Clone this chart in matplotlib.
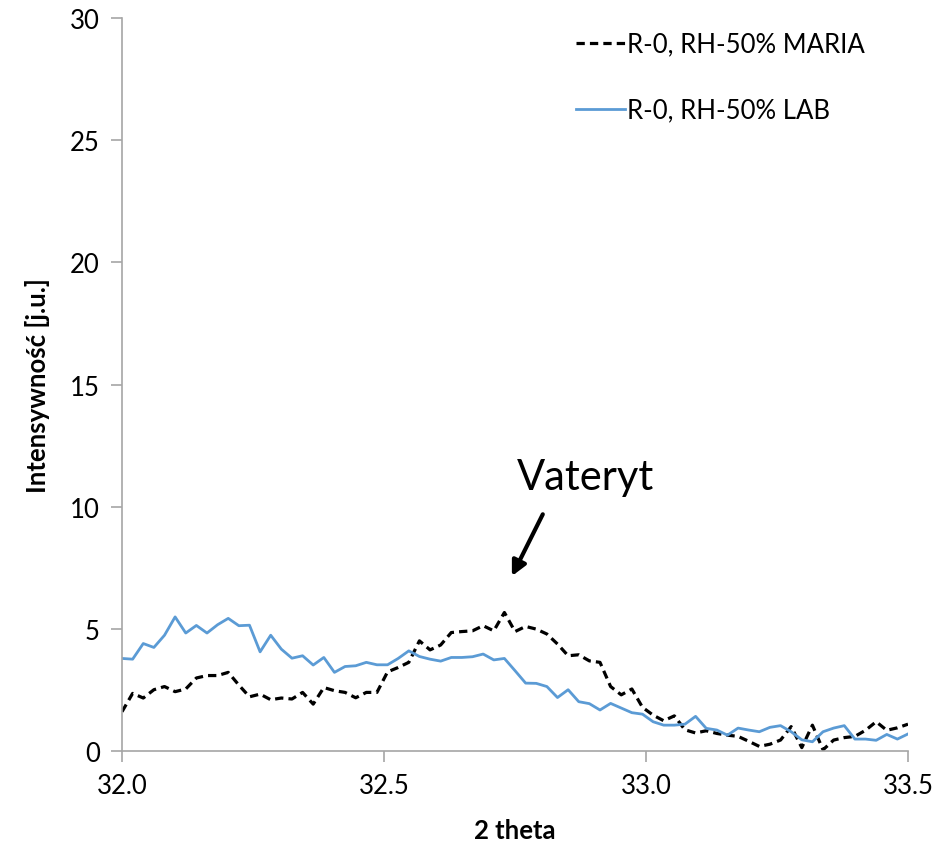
import numpy as np
import matplotlib
matplotlib.use("Agg")
import matplotlib.pyplot as plt

plt.rcParams['font.family'] = ['Lato', 'DejaVu Sans']

# 2 theta grid (75 points, 32.0 - 33.5)
theta = np.linspace(32.0, 33.5, 75)

# R-0, RH-50% MARIA (dashed black)
maria = [1.61, 2.36, 2.17, 2.51, 2.64, 2.43, 2.54, 2.99, 3.09, 3.09, 3.22, 2.70, 2.22, 2.33, 2.10,
         2.17, 2.13, 2.40, 1.92,
         2.60, 2.47, 2.40, 2.18, 2.40, 2.40, 3.24, 3.42, 3.63, 4.51, 4.14, 4.34, 4.85, 4.89, 4.92,
         5.13, 4.92, 5.67,
         4.89, 5.10, 4.99, 4.79, 4.38, 3.90, 3.94, 3.69, 3.63, 2.64, 2.30, 2.54, 1.79, 1.47, 1.24,
         1.44, 0.87, 0.74,
         0.83, 0.72, 0.65, 0.60, 0.40, 0.19, 0.28, 0.45, 1.00, 0.14, 1.06, 0.05, 0.45, 0.55, 0.60,
         0.85, 1.20, 0.85, 0.95, 1.10]

# R-0, RH-50% LAB (solid blue)
lab = [3.79, 3.76, 4.40, 4.24, 4.74, 5.49, 4.83, 5.14, 4.83, 5.17, 5.43, 5.13, 5.15, 4.06, 4.74,
       4.17, 3.80, 3.90, 3.52,
       3.83, 3.22, 3.46, 3.49, 3.63, 3.53, 3.53, 3.79, 4.10, 3.87, 3.76, 3.68, 3.83, 3.83, 3.86,
       3.97, 3.73, 3.79,
       3.29, 2.78, 2.77, 2.64, 2.19, 2.51, 2.02, 1.94, 1.68, 1.95, 1.76, 1.57, 1.51, 1.20, 1.06,
       1.06, 1.10, 1.42,
       0.93, 0.86, 0.65, 0.94, 0.86, 0.79, 0.97, 1.04, 0.79, 0.46, 0.38, 0.79, 0.94, 1.04, 0.49,
       0.49, 0.44, 0.68, 0.49, 0.70]

xticks = [32.0, 32.5, 33.0, 33.5]
yticks = [0, 5, 10, 15, 20, 25, 30]

fig = plt.figure(figsize=(9.51, 8.45), dpi=100)
ax = fig.add_axes([0.1283, 0.11, 0.8265, 0.8675])

ax.plot(theta, maria, color='black', linestyle=(0, (2.6, 1.6)), linewidth=2.3,
        label='R-0, RH-50% MARIA')
ax.plot(theta, lab, color='#5B9BD5', linewidth=2.0, label='R-0, RH-50% LAB')

ax.set_xlim(32.0, 33.5)
ax.set_ylim(0, 30)
ax.set_xticks(xticks)
ax.set_xticklabels([f"{t:.1f}" for t in xticks])
ax.set_yticks(yticks)

for s in ['top', 'right']:
    ax.spines[s].set_visible(False)
for s in ['left', 'bottom']:
    ax.spines[s].set_color('#a6a6a6')
    ax.spines[s].set_linewidth(1.2)
ax.tick_params(axis='both', colors='#a6a6a6', length=8, width=1.2, labelsize=18.5,
               labelcolor='black', pad=8)

ax.set_xlabel('2 theta', fontsize=18.5, fontweight='bold', labelpad=14)
ax.set_ylabel('Intensywność [j.u.]', fontsize=18.5, fontweight='bold', labelpad=14)

ax.legend(loc='upper right', bbox_to_anchor=(0.975, 1.013), frameon=False, fontsize=18.5,
          handlelength=1.9, handletextpad=0.1, labelspacing=1.6)

# annotation: label + arrow pointing at the vaterite peak
ax.text(32.885, 11.2, 'Vateryt', fontsize=30, ha='center', va='center')
ax.annotate('', xy=(32.744, 7.16), xytext=(32.803, 9.69),
            arrowprops=dict(arrowstyle='-|>', color='black', lw=3, mutation_scale=22,
                            shrinkA=0, shrinkB=0))

fig.savefig('out.png', dpi=100)
